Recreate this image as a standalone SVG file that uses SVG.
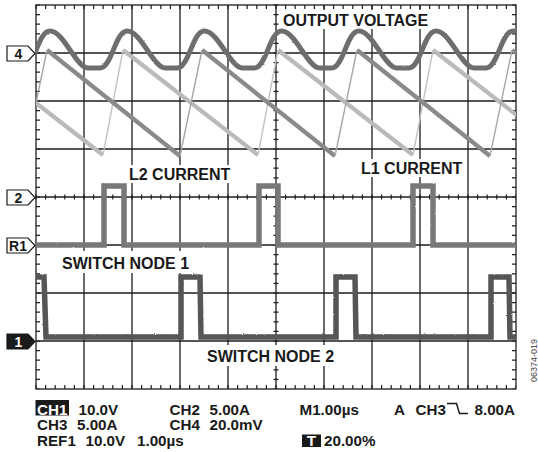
<svg xmlns="http://www.w3.org/2000/svg" width="538" height="452" viewBox="0 0 538 452">
<style>
.grid{stroke:#1e1e1e;stroke-width:1.3;fill:none}
.tk{stroke:#1e1e1e;stroke-width:4;stroke-dasharray:1.2 8.4;fill:none}
.tkc{stroke:#1e1e1e;stroke-width:5;stroke-dasharray:1.2 8.4;fill:none}
.lbl{font-family:"Liberation Sans",Arial,Helvetica,sans-serif;font-weight:bold;font-size:16px;fill:#1a1a1a}
.st{font-family:"Liberation Sans",Arial,Helvetica,sans-serif;font-weight:bold;font-size:15.2px;fill:#1a1a1a}
.mk{fill:#ffffff;stroke:#1a1a1a;stroke-width:1.2}
.mkt{font-family:"Liberation Sans",Arial,Helvetica,sans-serif;font-weight:bold;font-size:14px;fill:#1a1a1a;text-anchor:middle}
.inv{fill:#ffffff}
.bg{fill:#ffffff}
.v{stroke:#6e6e6e;stroke-width:5;fill:none;stroke-linejoin:round}
.id{stroke:#8a8a8a;stroke-width:4.2;fill:none}
.il{stroke:#bababa;stroke-width:4.2;fill:none}
.ed{stroke-width:1.4;fill:none}
.s1{stroke:#787878;stroke-width:5.5;fill:none}
.s2{stroke:#565656;stroke-width:5.5;fill:none}
</style>
<defs>
<clipPath id="plot"><rect x="36" y="5" width="480" height="384"/></clipPath>
<filter id="fz" filterUnits="userSpaceOnUse" x="0" y="0" width="538" height="452">
<feTurbulence type="fractalNoise" baseFrequency="0.9" numOctaves="1" seed="3" result="n"/>
<feDisplacementMap in="SourceGraphic" in2="n" scale="2" xChannelSelector="R" yChannelSelector="G"/>
</filter>
</defs>
<rect width="538" height="452" fill="#ffffff"/>
<g id="grid">
<path class="grid" d="M84,5V389M132,5V389M180,5V389M228,5V389M276,5V389M324,5V389M372,5V389M420,5V389M468,5V389M36,53H516M36,101H516M36,149H516M36,197H516M36,245H516M36,293H516M36,341H516"/>
<rect class="grid" x="36" y="5" width="480" height="384"/>
<path class="tk" d="M35.4,7H516M35.4,387H516M38,4.4V389M514,4.4V389"/>
<path class="tkc" d="M35.4,197H516M276,4.4V389"/>
</g>
<g id="label-backgrounds">
<rect class="bg" x="281" y="10" width="151" height="19"/>
<rect class="bg" x="127" y="165" width="103" height="18"/>
<rect class="bg" x="359" y="159" width="103" height="18"/>
<rect class="bg" x="60" y="251" width="128" height="22"/>
<rect class="bg" x="205" y="345" width="130" height="21"/>
</g>
<g id="traces" clip-path="url(#plot)">
<g id="l2-current">
<path class="il" d="M36,103L103,155M123,50L258,155M278,50L413,155M433,50L568,155"/>
<path class="ed" stroke="#c4c4c4" d="M103,155L123,50M258,155L278,50M413,155L433,50"/>
</g>
<g id="l1-current">
<path class="id" d="M47,50L180,156M202,50L335,156M357,50L490,156M512,50L645,156"/>
<path class="ed" stroke="#a8a8a8" d="M36,103L47,50M180,156L202,50M335,156L357,50M490,156L512,50"/>
</g>
<g id="output-voltage" filter="url(#fz)">
<path class="v" d="M-27.2,31c14,0 26,37 38,37l12,0c12,0 15,-37 27.2,-37c14,0 26,37 38,37l12,0c12,0 15,-37 27.2,-37c14,0 26,37 38,37l12,0c12,0 15,-37 27.2,-37c14,0 26,37 38,37l12,0c12,0 15,-37 27.2,-37c14,0 26,37 38,37l12,0c12,0 15,-37 27.2,-37c14,0 26,37 38,37l12,0c12,0 15,-37 27.2,-37c14,0 26,37 38,37l12,0c12,0 15,-37 27.2,-37c14,0 26,37 38,37l12,0c12,0 15,-37 27.2,-37c14,0 26,37 38,37l12,0c12,0 15,-37 27.2,-37"/>
</g>
<g id="switch-node-1" filter="url(#fz)">
<path class="s1" d="M30,245H104V186H124V245H259V186H278V245H413V186H433V245H520"/>
</g>
<g id="switch-node-2" filter="url(#fz)">
<path class="s2" d="M30,277H44L46,337H181V277H200L201,337H336V277H355L356,337H491V277H509L510,337H520"/>
</g>
</g>
<g id="labels">
<text class="lbl" x="283" y="26">OUTPUT VOLTAGE</text>
<text class="lbl" x="129" y="180">L2 CURRENT</text>
<text class="lbl" x="361" y="174">L1 CURRENT</text>
<text class="lbl" x="62" y="269">SWITCH NODE 1</text>
<text class="lbl" x="207" y="362">SWITCH NODE 2</text>
</g>
<g id="marker-4">
<path class="mk" d="M7,46H28L35,53.5L28,61H7Z"/>
<text class="mkt" x="18.5" y="58.5">4</text>
</g>
<g id="marker-2">
<path class="mk" d="M7,190H28L35,197.5L28,205H7Z"/>
<text class="mkt" x="18.5" y="202.5">2</text>
</g>
<g id="marker-r1">
<path class="mk" d="M7,238H28L35,245.5L28,253H7Z"/>
<text class="mkt" x="18" y="250.5">R1</text>
</g>
<g id="marker-1">
<path d="M7,334H28L35,341.5L28,349H7Z" fill="#1a1a1a" stroke="#1a1a1a" stroke-width="1.2"/>
<text class="mkt inv" x="18.5" y="346.5">1</text>
</g>
<g id="status">
<rect x="35.5" y="400" width="33.5" height="15.5" fill="#1a1a1a"/>
<text class="st inv" x="52.2" y="414.5" text-anchor="middle">CH1</text>
<text class="st" x="78.5" y="414.5">10.0V</text>
<text class="st" x="169.5" y="414.5">CH2</text>
<text class="st" x="209.5" y="414.5">5.00A</text>
<text class="st" x="299.5" y="414.5">M1.00µs</text>
<text class="st" x="394" y="414.5">A</text>
<text class="st" x="415.5" y="414.5">CH3</text>
<path d="M447,403.5H456.5L459.5,413.5H468" stroke="#1a1a1a" stroke-width="1.5" fill="none"/>
<text class="st" x="474.5" y="414.5">8.00A</text>
<text class="st" x="37" y="430">CH3</text>
<text class="st" x="77" y="430">5.00A</text>
<text class="st" x="169.5" y="430">CH4</text>
<text class="st" x="209.5" y="430">20.0mV</text>
<text class="st" x="37" y="445.5">REF1</text>
<text class="st" x="85.5" y="445.5">10.0V</text>
<text class="st" x="137" y="445.5">1.00µs</text>
<rect x="302" y="434.5" width="19" height="12.5" fill="#1a1a1a"/>
<text class="st inv" x="311.5" y="445.5" text-anchor="middle">T</text>
<text class="st" x="324" y="445.5">20.00%</text>
<text x="537" y="382" transform="rotate(-90 537 382)" font-family="Liberation Sans,Arial,sans-serif" font-size="9" fill="#444444">06374-019</text>
</g>
</svg>
